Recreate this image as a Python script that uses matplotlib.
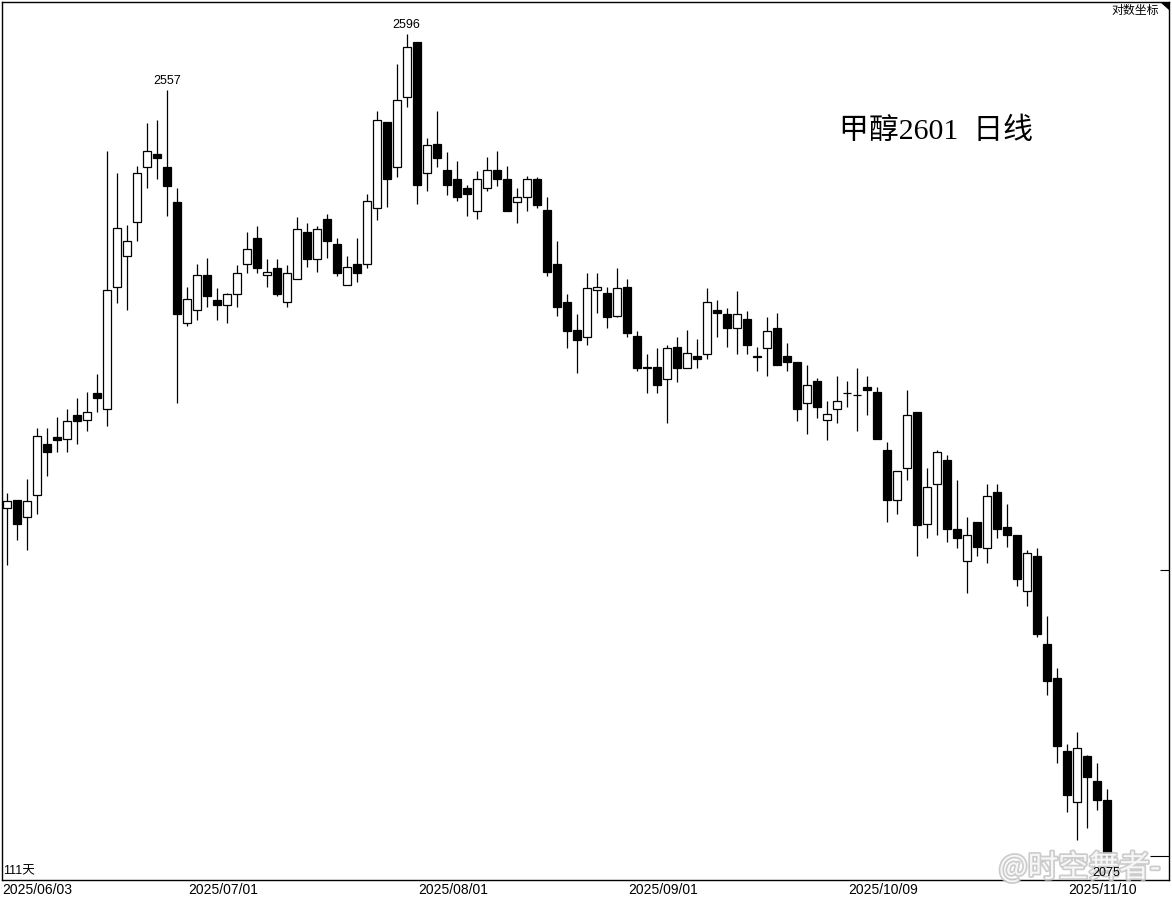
import matplotlib
matplotlib.use('Agg')
import matplotlib.pyplot as plt
import matplotlib.patheffects as pe
from matplotlib.patches import Polygon
import numpy as np

plt.rcParams['font.family'] = ['Liberation Sans', 'Noto Sans CJK SC']

# daily OHLC, 2025/06/03 .. 2025/11/12
opens = [2283, 2288, 2277, 2291, 2323, 2327, 2326, 2341, 2338, 2355,
         2345, 2424, 2444, 2467, 2504, 2513, 2504, 2480, 2400, 2409,
         2432, 2415, 2412, 2419, 2439, 2456, 2432, 2436, 2414, 2429,
         2460, 2442, 2469, 2452, 2425, 2439, 2439, 2476, 2535, 2504,
         2552, 2590, 2500, 2520, 2502, 2496, 2490, 2474, 2490, 2502,
         2496, 2480, 2484, 2496, 2475, 2439, 2414, 2396, 2391, 2422,
         2420, 2405, 2424, 2392, 2372, 2372, 2364, 2385, 2371, 2379,
         2380, 2409, 2406, 2397, 2403, 2379, 2384, 2397, 2379, 2375,
         2349, 2363, 2338, 2345, 2355, 2354, 2359, 2356, 2319, 2288,
         2308, 2343, 2273, 2298, 2313, 2270, 2250, 2274, 2258, 2293,
         2271, 2266, 2232, 2253, 2200, 2180, 2137, 2108, 2134, 2120,
         2109]
highs = [2292, 2288, 2301, 2333, 2333, 2340, 2345, 2352, 2356, 2367,
         2515, 2500, 2465, 2505, 2534, 2536, 2557, 2490, 2424, 2439,
         2443, 2423, 2420, 2438, 2460, 2464, 2442, 2442, 2438, 2470,
         2466, 2464, 2472, 2456, 2444, 2456, 2486, 2542, 2535, 2575,
         2596, 2590, 2524, 2542, 2514, 2508, 2492, 2501, 2511, 2515,
         2505, 2490, 2498, 2497, 2484, 2454, 2419, 2406, 2433, 2433,
         2424, 2436, 2429, 2395, 2380, 2384, 2386, 2391, 2396, 2390,
         2423, 2415, 2410, 2421, 2408, 2385, 2404, 2407, 2387, 2375,
         2373, 2365, 2350, 2366, 2363, 2371, 2366, 2359, 2324, 2306,
         2357, 2343, 2308, 2319, 2316, 2300, 2277, 2274, 2298, 2298,
         2285, 2266, 2257, 2258, 2217, 2186, 2141, 2148, 2135, 2130,
         2115]
lows = [2248, 2263, 2257, 2279, 2303, 2318, 2318, 2323, 2331, 2343,
        2334, 2413, 2409, 2454, 2490, 2496, 2471, 2349, 2398, 2402,
        2411, 2402, 2400, 2411, 2433, 2433, 2424, 2418, 2411, 2429,
        2437, 2434, 2443, 2431, 2425, 2427, 2436, 2468, 2477, 2497,
        2545, 2479, 2488, 2504, 2485, 2481, 2471, 2469, 2488, 2491,
        2474, 2466, 2474, 2476, 2431, 2405, 2384, 2368, 2386, 2407,
        2397, 2404, 2391, 2369, 2355, 2355, 2336, 2362, 2371, 2371,
        2377, 2391, 2385, 2380, 2380, 2369, 2366, 2373, 2369, 2337,
        2329, 2339, 2325, 2336, 2346, 2331, 2341, 2326, 2274, 2279,
        2300, 2253, 2264, 2266, 2262, 2258, 2231, 2253, 2249, 2264,
        2259, 2235, 2223, 2204, 2170, 2130, 2102, 2086, 2093, 2103,
        2075]
closes = [2287, 2273, 2287, 2328, 2318, 2325, 2337, 2337, 2343, 2352,
          2422, 2463, 2454, 2500, 2515, 2510, 2491, 2406, 2416, 2432,
          2418, 2412, 2419, 2433, 2449, 2436, 2434, 2419, 2433, 2462,
          2442, 2462, 2454, 2433, 2437, 2433, 2481, 2536, 2496, 2550,
          2587, 2492, 2519, 2510, 2492, 2484, 2486, 2496, 2502, 2496,
          2474, 2484, 2496, 2478, 2434, 2411, 2395, 2389, 2423, 2424,
          2404, 2423, 2394, 2371, 2371, 2360, 2384, 2371, 2381, 2377,
          2414, 2407, 2397, 2406, 2386, 2378, 2395, 2373, 2375, 2345,
          2360, 2346, 2342, 2350, 2355, 2354, 2357, 2326, 2288, 2306,
          2341, 2272, 2296, 2318, 2270, 2264, 2266, 2259, 2290, 2270,
          2266, 2239, 2255, 2206, 2178, 2140, 2112, 2139, 2122, 2109,
          2077]

date_idx = [0, 20, 43, 64, 86, 108]
date_labels = ['2025/06/03', '2025/07/01', '2025/08/01',
               '2025/09/01', '2025/10/09', '2025/11/10']

fig = plt.figure(figsize=(11.72, 8.98), dpi=100)
ax = fig.add_axes([2 / 1172, 18 / 898, 1167 / 1172, 878 / 898])

x = np.arange(len(closes))
o = np.array(opens)
h = np.array(highs)
l = np.array(lows)
c = np.array(closes)
up = c > o

ax.vlines(x, l, h, color='black', linewidth=0.9, zorder=1)
ax.bar(x, np.abs(c - o), bottom=np.minimum(o, c), width=0.8,
       color=np.where(up, 'white', 'black'), edgecolor='black',
       linewidth=0.9, zorder=2)

ax.set_yscale('log')
ax.set_ylim(2063.7, 2618.6)
ax.set_xlim(-0.47, 116.23)

for s in ax.spines.values():
    s.set_linewidth(1.0)
    s.set_color('black')

ax.set_xticks([])
ax.set_yticks([closes[-1]])
ax.set_yticks([2245], minor=True)
ax.tick_params(axis='y', which='both', left=False, right=True,
               labelleft=False, labelright=False, direction='in', width=0.8)
ax.tick_params(axis='y', which='major', length=13.7)
ax.tick_params(axis='y', which='minor', length=6.5)

# high / low marks
for i in (16, 40):
    ax.annotate(str(highs[i]), (i, highs[i]), xytext=(0, 2),
                textcoords='offset points', ha='center', va='bottom',
                fontsize=9)
ax.annotate(str(lows[-1]), (len(lows) - 1, lows[-1]), xytext=(0, -5),
            textcoords='offset points', ha='center', va='top', fontsize=9,
            zorder=11)

# date labels under the frame
xmin = ax.get_xlim()[0]
for i, lab in zip(date_idx, date_labels):
    ax.text(max(i - 1.87, xmin + 0.02), -0.0114, lab,
            transform=ax.get_xaxis_transform(), ha='left', va='center',
            fontsize=10, clip_on=False)

ax.text(0.8003, 0.853, '甲醇2601  日线', transform=ax.transAxes,
        ha='center', va='center', fontsize=21.5,
        family=['Liberation Serif', 'Noto Sans CJK SC'])
ax.text(0.9914, 0.9897, '对数坐标', transform=ax.transAxes,
        ha='right', va='center', fontsize=8.6)
ax.text(0.001, 0.0103, f'{len(closes)}天', transform=ax.transAxes,
        ha='left', va='center', fontsize=9)

ax.add_patch(Polygon([[1, 1], [1 - 9 / 1167, 1], [1, 1 - 8 / 878]],
                     closed=True, transform=ax.transAxes,
                     facecolor='black', edgecolor='none', clip_on=False))

# watermark
ax.text(0.9233, 0.0137, '@时空舞者-', transform=ax.transAxes,
        ha='center', va='center', fontsize=22, color='white', alpha=0.85,
        family=['Noto Sans CJK SC'], zorder=10, clip_on=False,
        path_effects=[pe.withStroke(linewidth=2.5, foreground='#c4c4c4')])

fig.savefig('out.png', dpi=100)
